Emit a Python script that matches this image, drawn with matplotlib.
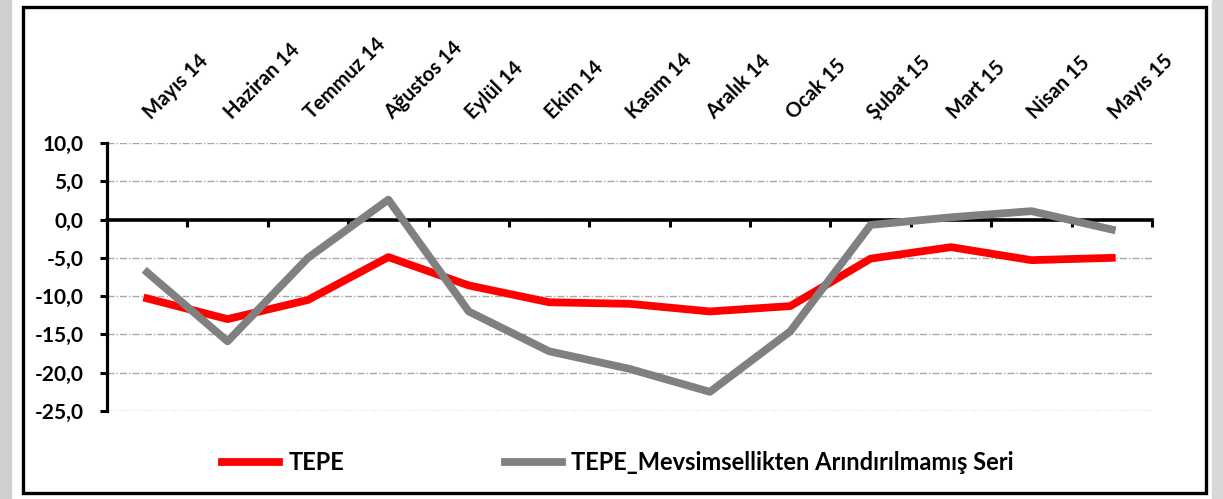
import numpy as np
import matplotlib
matplotlib.use("Agg")
import matplotlib.pyplot as plt
from matplotlib.patches import Rectangle
from matplotlib.transforms import blended_transform_factory

months = ["Mayıs 14", "Haziran 14", "Temmuz 14", "Ağustos 14", "Eylül 14", "Ekim 14",
          "Kasım 14", "Aralık 14", "Ocak 15", "Şubat 15", "Mart 15", "Nisan 15", "Mayıs 15"]
tepe = [-10.3, -13.0, -10.5, -4.9, -8.6, -10.8, -11.0, -12.0, -11.3, -5.1, -3.6, -5.3, -5.0]
tepe_raw = [-6.9, -15.9, -5.0, 2.6, -12.0, -17.2, -19.5, -22.5, -14.6, -0.7, 0.3, 1.1, -1.3]
yticks = [-25, -20, -15, -10, -5, 0, 5, 10]

plt.rcParams['font.family'] = ['Lato', 'DejaVu Sans']
plt.rcParams['font.weight'] = 'bold'

W, H = 1223, 499
fig = plt.figure(figsize=(W / 100, H / 100), dpi=100)

# outer frame + shadow
fig.patches.append(Rectangle((0, 0), 11 / W, 1, transform=fig.transFigure,
                             color='#cfcfcf', zorder=0))
fig.patches.append(Rectangle((1212 / W, 0), 11 / W, 1, transform=fig.transFigure,
                             color='#d8d8d8', zorder=0))
fig.patches.append(Rectangle((23 / W, 6 / H), (1206 - 23) / W, (492 - 6) / H,
                             transform=fig.transFigure, fill=True, facecolor='white',
                             edgecolor='black', lw=2.4, zorder=1))

ax = fig.add_axes([107 / W, (H - 411) / H, (1152 - 107) / W, (411 - 143) / H])
ax.set_zorder(2)
ax.patch.set_alpha(0)

x = np.arange(len(months))
ax.plot(x, tepe, color='#ff0000', lw=5.6, solid_joinstyle='round', label='TEPE', zorder=3)
ax.plot(x, tepe_raw, color='#808080', lw=5.6, solid_joinstyle='round',
        label='TEPE_Mevsimsellikten Arındırılmamış Seri', zorder=4)

ax.set_xlim(-0.5, len(months) - 0.5)
ax.set_ylim(-25, 10)
ax.set_yticks(yticks)
ax.set_yticklabels([f"{v:.1f}".replace('.', ',') for v in yticks], fontsize=15, fontweight='bold')
ax.yaxis.grid(True, color='#a6a6a6', lw=1.0, linestyle=(0, (5, 1.5, 1, 1.5)))
ax.set_axisbelow(True)

for s in ['top', 'right']:
    ax.spines[s].set_visible(False)
ax.spines['left'].set_linewidth(2.3)
ax.spines['bottom'].set_position(('data', 0))
ax.spines['bottom'].set_linewidth(2.6)
ax.spines['bottom'].set_zorder(2.5)
ax.tick_params(axis='y', direction='out', length=5, width=2.2, pad=12)
ax.set_xticks(np.arange(-0.5, len(months), 1.0))
ax.tick_params(axis='x', direction='out', length=5, width=2.2, labelbottom=False)

tr = blended_transform_factory(ax.transData, fig.transFigure)
for i, m in enumerate(months):
    ax.text(i + 0.05, 1 - 120 / H, m, transform=tr, rotation=45, rotation_mode='anchor',
            ha='left', va='baseline', fontsize=14.5, fontweight='bold', clip_on=False)

fig.legend(loc='center', bbox_to_anchor=(618 / W, 1 - 463 / H), ncol=2, frameon=False,
           handlelength=2.4, columnspacing=6.8, handletextpad=0.4,
           prop={'weight': 'bold', 'size': 17})

fig.savefig('out.png', dpi=100)
